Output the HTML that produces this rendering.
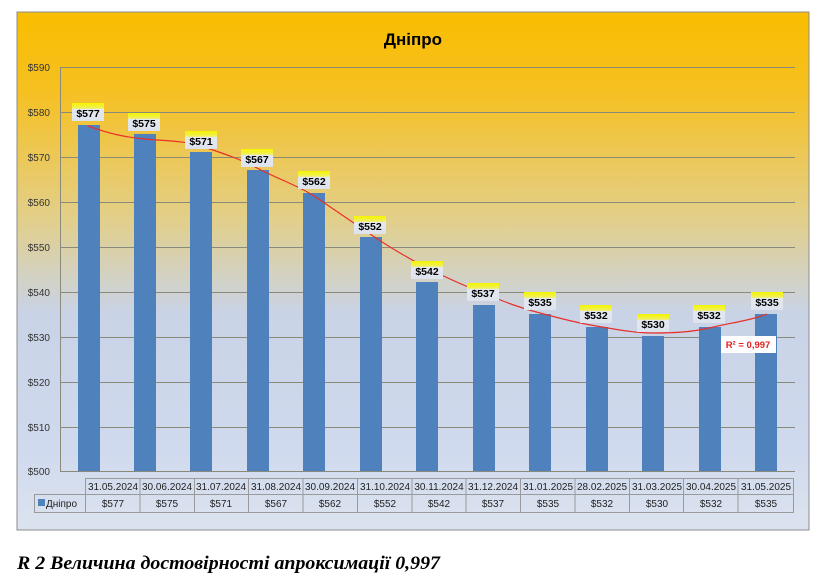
<!DOCTYPE html>
<html><head><meta charset="utf-8"><style>
body{margin:0;background:#fff;width:821px;height:581px;overflow:hidden;font-family:"Liberation Sans",sans-serif}
</style></head><body>
<svg width="821" height="581" xmlns="http://www.w3.org/2000/svg" font-family="Liberation Sans, sans-serif">
<defs>
<linearGradient id="bg" x1="0" y1="0" x2="0" y2="1">
<stop offset="0" stop-color="#F9BE00"/>
<stop offset="0.15" stop-color="#F6C020"/>
<stop offset="0.40" stop-color="#E2CF8A"/>
<stop offset="0.58" stop-color="#C9D3E6"/>
<stop offset="0.85" stop-color="#D0DAEE"/>
<stop offset="1" stop-color="#DCE3EF"/>
</linearGradient>
<linearGradient id="lb" x1="0" y1="0" x2="0" y2="1">
<stop offset="0" stop-color="#F5F500"/><stop offset="0.3" stop-color="#F0F060"/><stop offset="0.35" stop-color="#E4E8F0"/><stop offset="1" stop-color="#DDE3EE"/>
</linearGradient>
</defs>
<rect x="17" y="12" width="792" height="518" fill="url(#bg)" stroke="#8C8C8C" stroke-width="1"/>
<text x="413" y="45" text-anchor="middle" font-size="17" font-weight="bold" fill="#000">Дніпро</text>
<g stroke="#8a8a7a" stroke-width="1">
<line x1="60" y1="67.5" x2="795" y2="67.5"/><line x1="60" y1="112.5" x2="795" y2="112.5"/>
<line x1="60" y1="157.5" x2="795" y2="157.5"/><line x1="60" y1="202.5" x2="795" y2="202.5"/>
<line x1="60" y1="247.5" x2="795" y2="247.5"/><line x1="60" y1="292.5" x2="795" y2="292.5"/>
<line x1="60" y1="337.5" x2="795" y2="337.5"/><line x1="60" y1="382.5" x2="795" y2="382.5"/>
<line x1="60" y1="427.5" x2="795" y2="427.5"/><line x1="60" y1="471.5" x2="795" y2="471.5"/>
<line x1="60.5" y1="67" x2="60.5" y2="472"/>
</g>
<g font-size="10" fill="#333" text-anchor="end">
<text x="50" y="71">$590</text><text x="50" y="116">$580</text><text x="50" y="161">$570</text>
<text x="50" y="206">$560</text><text x="50" y="251">$550</text><text x="50" y="296">$540</text>
<text x="50" y="341">$530</text><text x="50" y="386">$520</text><text x="50" y="431">$510</text>
<text x="50" y="475">$500</text>
</g>
<g fill="#4F81BD">
<rect x="78" y="125" width="22" height="346"/>
<rect x="134" y="134" width="22" height="337"/>
<rect x="190" y="152" width="22" height="319"/>
<rect x="247" y="170" width="22" height="301"/>
<rect x="303" y="193" width="22" height="278"/>
<rect x="360" y="237" width="22" height="234"/>
<rect x="416" y="282" width="22" height="189"/>
<rect x="473" y="305" width="22" height="166"/>
<rect x="529" y="314" width="22" height="157"/>
<rect x="586" y="327" width="22" height="144"/>
<rect x="642" y="336" width="22" height="135"/>
<rect x="699" y="327" width="22" height="144"/>
<rect x="755" y="314" width="22" height="157"/>
</g>
<path d="M88,126 C110,134 125,137 144,139 C168,141 185,141 201,146 C225,154 240,159 257,168 C280,180 297,185 314,196 C338,212 352,222 370,234 C392,249 408,258 427,268 C447,278 465,286 483,293 C505,302 520,308 540,313 C562,319 578,323 596,326 C620,330 635,333 653,333 C675,333 692,332 709,328 C735,322 752,320 767,314" fill="none" stroke="#E8302A" stroke-width="1.2"/>
<g font-size="10.5" font-weight="bold" fill="#000" text-anchor="middle">
<g transform="translate(88,103)"><rect x="-16" y="0" width="32" height="18" fill="url(#lb)"/><text y="14">$577</text></g>
<g transform="translate(144,113)"><rect x="-16" y="0" width="32" height="18" fill="url(#lb)"/><text y="14">$575</text></g>
<g transform="translate(201,131)"><rect x="-16" y="0" width="32" height="18" fill="url(#lb)"/><text y="14">$571</text></g>
<g transform="translate(257,149)"><rect x="-16" y="0" width="32" height="18" fill="url(#lb)"/><text y="14">$567</text></g>
<g transform="translate(314,171)"><rect x="-16" y="0" width="32" height="18" fill="url(#lb)"/><text y="14">$562</text></g>
<g transform="translate(370,216)"><rect x="-16" y="0" width="32" height="18" fill="url(#lb)"/><text y="14">$552</text></g>
<g transform="translate(427,261)"><rect x="-16" y="0" width="32" height="18" fill="url(#lb)"/><text y="14">$542</text></g>
<g transform="translate(483,283)"><rect x="-16" y="0" width="32" height="18" fill="url(#lb)"/><text y="14">$537</text></g>
<g transform="translate(540,292)"><rect x="-16" y="0" width="32" height="18" fill="url(#lb)"/><text y="14">$535</text></g>
<g transform="translate(596,305)"><rect x="-16" y="0" width="32" height="18" fill="url(#lb)"/><text y="14">$532</text></g>
<g transform="translate(653,314)"><rect x="-16" y="0" width="32" height="18" fill="url(#lb)"/><text y="14">$530</text></g>
<g transform="translate(709,305)"><rect x="-16" y="0" width="32" height="18" fill="url(#lb)"/><text y="14">$532</text></g>
<g transform="translate(767,292)"><rect x="-16" y="0" width="32" height="18" fill="url(#lb)"/><text y="14">$535</text></g>
</g>
<rect x="721" y="336" width="55" height="17" fill="#fff"/>
<text x="748" y="348" text-anchor="middle" font-size="9.5" font-weight="bold" fill="#E02020">R² = 0,997</text>
<g stroke="#9a9a9a" fill="none" stroke-width="1">
<rect x="85.5" y="478.5" width="708" height="16"/>
<rect x="34.5" y="494.5" width="759" height="18"/>
<line x1="85.5" y1="494" x2="85.5" y2="512"/>
</g>
<g stroke="#9a9a9a" stroke-width="1">
<line x1="140" y1="478" x2="140" y2="512"/><line x1="194.5" y1="478" x2="194.5" y2="512"/>
<line x1="248.5" y1="478" x2="248.5" y2="512"/><line x1="303" y1="478" x2="303" y2="512"/>
<line x1="357.5" y1="478" x2="357.5" y2="512"/><line x1="412" y1="478" x2="412" y2="512"/>
<line x1="466" y1="478" x2="466" y2="512"/><line x1="520.5" y1="478" x2="520.5" y2="512"/>
<line x1="575" y1="478" x2="575" y2="512"/><line x1="629.5" y1="478" x2="629.5" y2="512"/>
<line x1="683.5" y1="478" x2="683.5" y2="512"/><line x1="738" y1="478" x2="738" y2="512"/>
</g>
<g font-size="10" fill="#222" text-anchor="middle">
<text x="113" y="490">31.05.2024</text><text x="167" y="490">30.06.2024</text><text x="221" y="490">31.07.2024</text>
<text x="276" y="490">31.08.2024</text><text x="330" y="490">30.09.2024</text><text x="385" y="490">31.10.2024</text>
<text x="439" y="490">30.11.2024</text><text x="493" y="490">31.12.2024</text><text x="548" y="490">31.01.2025</text>
<text x="602" y="490">28.02.2025</text><text x="657" y="490">31.03.2025</text><text x="711" y="490">30.04.2025</text>
<text x="766" y="490">31.05.2025</text>
<text x="113" y="507">$577</text><text x="167" y="507">$575</text><text x="221" y="507">$571</text>
<text x="276" y="507">$567</text><text x="330" y="507">$562</text><text x="385" y="507">$552</text>
<text x="439" y="507">$542</text><text x="493" y="507">$537</text><text x="548" y="507">$535</text>
<text x="602" y="507">$532</text><text x="657" y="507">$530</text><text x="711" y="507">$532</text>
<text x="766" y="507">$535</text>
</g>
<rect x="38" y="499" width="7" height="7" fill="#4F81BD"/>
<text x="46" y="507" font-size="10" fill="#222">Дніпро</text>
<text x="17" y="569" font-family="Liberation Serif, serif" font-size="19" font-weight="bold" font-style="italic" fill="#000" textLength="423" lengthAdjust="spacingAndGlyphs">R 2 Величина достовірності апроксимації 0,997</text>
</svg>
</body></html>
